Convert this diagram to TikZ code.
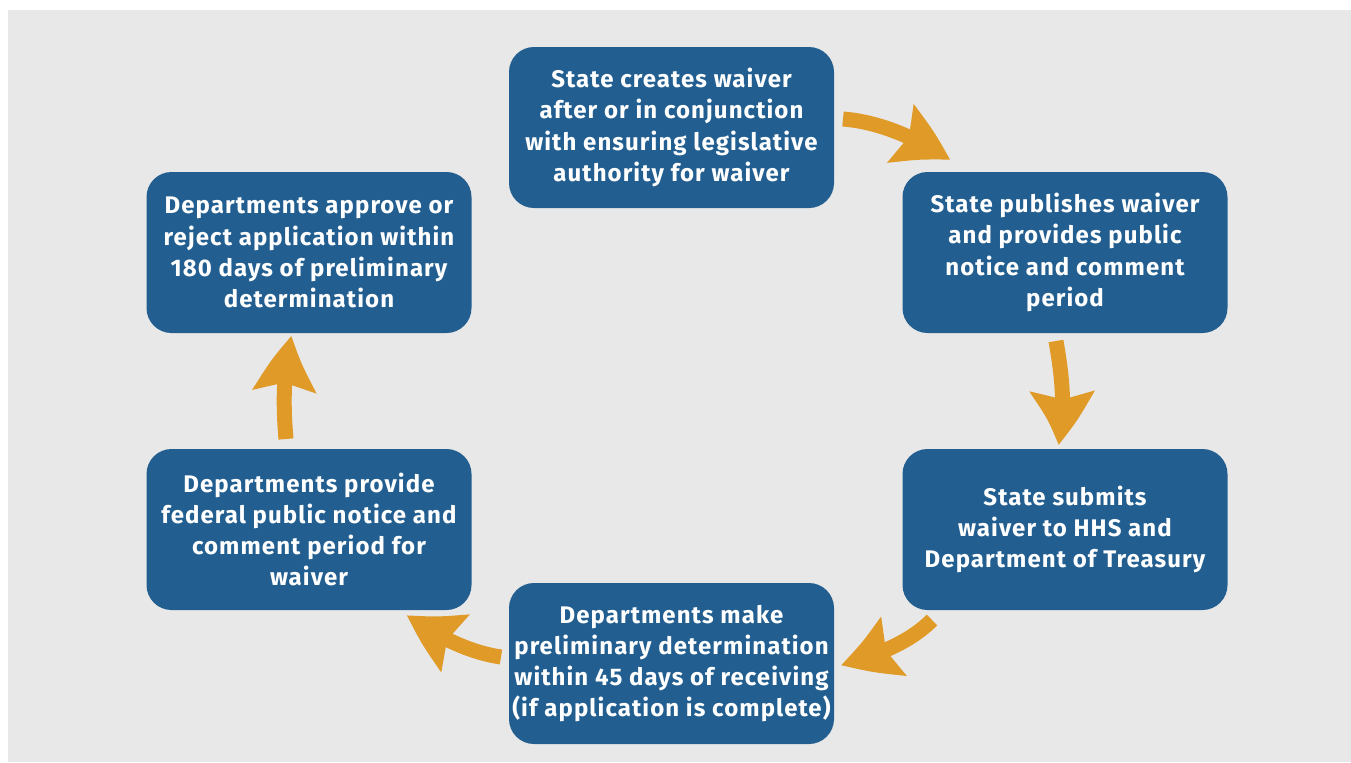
\documentclass[tikz,border=0pt]{standalone}
\usepackage{fontspec}
\setmainfont{Fira Sans}[LetterSpace=4.5]
\usetikzlibrary{arrows.meta,bending}
\definecolor{bgray}{HTML}{E8E8E8}
\definecolor{boxblue}{HTML}{225F90}
\definecolor{arrorange}{HTML}{E09A27}
\begin{document}
\begin{tikzpicture}[x=0.5pt,y=-0.5pt,
  stepbox/.style={fill=boxblue, rounded corners=12.5pt, minimum width=162.5pt, minimum height=80.5pt,
    inner sep=0pt, align=center, text=white, font=\fontsize{12}{15.6}\selectfont\bfseries},
  cyclearrow/.style={draw=arrorange, line width=7.5pt,
    -{Stealth[length=27.5pt, width=31pt, inset=4pt, bend]}}]
\useasboundingbox (0,0) rectangle (1351,762);
\fill[bgray] (8,10) rectangle (1351,762);
\node[stepbox] (create) at (671.5,127.5) {State creates waiver\\after or in conjunction\\with ensuring legislative\\authority for waiver};
\node[stepbox] (publish) at (1065,252.5) {State publishes waiver\\and provides public\\notice and comment\\period};
\node[stepbox] (submit) at (1065,529.5) {State submits\\waiver to HHS and\\Department of Treasury};
\node[stepbox] (prelim) at (671.5,663.5) {Departments make\\preliminary determination\\within 45 days of receiving\\(if application is complete)};
\node[stepbox] (notice) at (309,529.5) {Departments provide\\federal public notice and\\comment period for\\waiver};
\node[stepbox] (approve) at (309,252.5) {Departments approve or\\reject application within\\180 days of preliminary\\determination};
\coordinate (a1s) at (843,119);
\coordinate (a1e) at (950,160);
\coordinate (a2s) at (1056,341);
\coordinate (a2e) at (1058,445);
\coordinate (a3s) at (932,620);
\coordinate (a3e) at (841,665);
\coordinate (a4s) at (501,657);
\coordinate (a4e) at (407,615);
\coordinate (a5s) at (286,439);
\coordinate (a5e) at (292,336);
\draw[cyclearrow] (a1s) .. controls (881,122) and (918,139) .. (a1e);
\draw[cyclearrow] (a2s) .. controls (1062,376) and (1066,408) .. (a2e);
\draw[cyclearrow] (a3s) .. controls (908,644) and (874,656) .. (a3e);
\draw[cyclearrow] (a4s) .. controls (467,652) and (435,635) .. (a4e);
\draw[cyclearrow] (a5s) .. controls (283,405) and (283,369) .. (a5e);
\end{tikzpicture}
\end{document}
